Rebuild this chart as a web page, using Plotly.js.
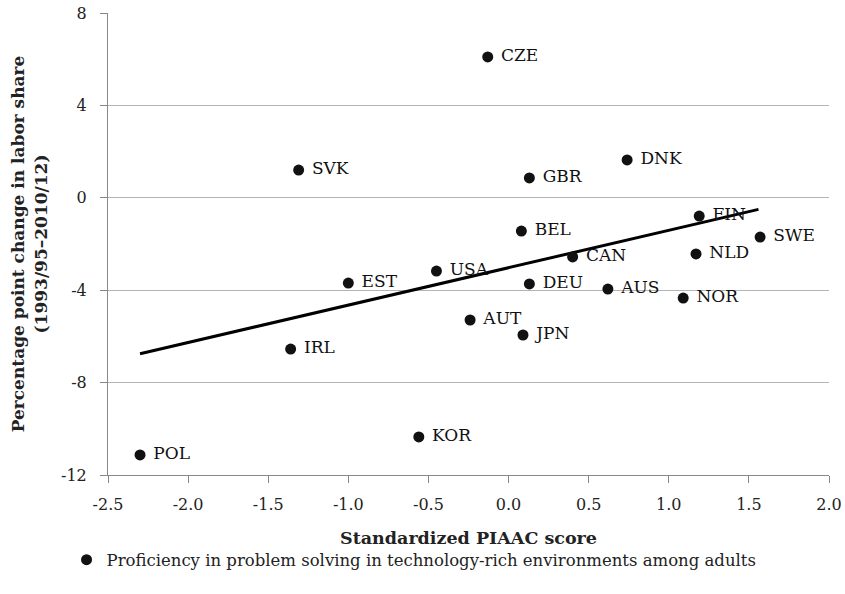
<!DOCTYPE html>
<html>
<head>
<meta charset="utf-8">
<script src="https://cdn.plot.ly/plotly-3.0.1.min.js"></script>
<style>html,body{margin:0;padding:0;background:#fff;}#chart{width:845px;height:594px;}</style>
</head>
<body>
<div id="chart"></div>
<script>
const countries = ["CZE","SVK","DNK","GBR","FIN","BEL","SWE","NLD","CAN","USA","EST","DEU","AUS","NOR","AUT","JPN","IRL","KOR","POL"];
const piaacScore = [-0.13,-1.31,0.74,0.13,1.19,0.08,1.57,1.17,0.40,-0.45,-1.00,0.13,0.62,1.09,-0.24,0.09,-1.36,-0.56,-2.30];
const laborShareChange = [6.10,1.20,1.64,0.86,-0.79,-1.44,-1.70,-2.43,-2.56,-3.17,-3.69,-3.73,-3.95,-4.34,-5.29,-5.94,-6.55,-10.35,-11.13];
const trendX = [-2.30, 1.56];
const trendY = [-6.75, -0.50];
const xTicks = [-2.5,-2.0,-1.5,-1.0,-0.5,0.0,0.5,1.0,1.5,2.0];
const xTickLabels = ["-2.5","-2.0","-1.5","-1.0","-0.5","0.0","0.5","1.0","1.5","2.0"];
const yTicks = [-12,-8,-4,0,4,8];
const yTickLabels = ["-12","-8","-4","0","4","8"];
const legendLabel = "Proficiency in problem solving in technology-rich environments among adults";

const serif = "'DejaVu Serif', 'Liberation Serif', serif";

const traces = [
  {
    x: trendX, y: trendY, mode: "lines", type: "scatter",
    line: {color: "#000", width: 3}, showlegend: false, hoverinfo: "skip"
  },
  {
    x: piaacScore, y: laborShareChange, text: countries,
    mode: "markers+text", type: "scatter", textposition: "middle right",
    texttemplate: "\u00a0%{text}",
    textfont: {family: serif, size: 17, color: "#111"},
    marker: {color: "#111", size: 11},
    showlegend: false, cliponaxis: false
  },
  {
    x: [null], y: [null], mode: "markers", type: "scatter",
    name: legendLabel, marker: {color: "#111", size: 11}, showlegend: true
  }
];

const layout = {
  width: 845, height: 594,
  margin: {l: 108, r: 16, t: 13, b: 119, autoexpand: false},
  paper_bgcolor: "#fff", plot_bgcolor: "#fff",
  font: {family: serif, size: 16, color: "#222"},
  xaxis: {
    range: [-2.5, 2.0], tickvals: xTicks, ticktext: xTickLabels,
    showgrid: false, zeroline: false, showline: true, linecolor: "#888", linewidth: 1,
    ticks: "outside", ticklen: 7, tickcolor: "#888", ticklabelstandoff: 8,
    tickfont: {family: serif, size: 16, color: "#222"},
    title: {text: "<b>Standardized PIAAC score</b>", font: {family: serif, size: 17.5, color: "#222"}, standoff: 18}
  },
  yaxis: {
    range: [-12, 8], tickvals: yTicks, ticktext: yTickLabels,
    showgrid: true, gridcolor: "#b4b4b4", gridwidth: 1,
    zeroline: false, showline: true, linecolor: "#888", linewidth: 1,
    ticks: "outside", ticklen: 7, tickcolor: "#888", ticklabelstandoff: 10,
    tickfont: {family: serif, size: 16, color: "#222"},
    title: {text: "<b>Percentage point change in labor share<br>(1993/95–2010/12)</b>", font: {family: serif, size: 17, color: "#222"}, standoff: 9}
  },
  showlegend: true,
  legend: {
    orientation: "h", x: -0.0575, xanchor: "left", y: -0.146, yanchor: "top",
    font: {family: serif, size: 16.5, color: "#222"}, bgcolor: "rgba(0,0,0,0)"
  }
};

Plotly.newPlot("chart", traces, layout, {displayModeBar: false, staticPlot: true});
</script>
</body>
</html>
